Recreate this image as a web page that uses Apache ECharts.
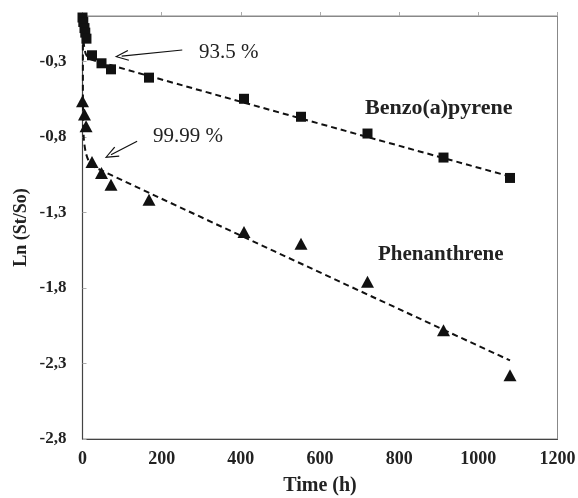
<!DOCTYPE html>
<html><head><meta charset="utf-8">
<script src="https://cdn.jsdelivr.net/npm/echarts@6/dist/echarts.min.js"></script>
<style>html,body{margin:0;padding:0;background:#fff}#c{width:578px;height:498px}</style>
</head><body><div id="c"></div>
<script>
// Benzo(a)pyrene (squares)
const bapTime = [0, 2, 5, 7, 10, 24, 48, 72, 168, 408, 552, 720, 912, 1080];
const bapLn   = [-0.01, -0.04, -0.08, -0.11, -0.15, -0.26, -0.313, -0.353, -0.408, -0.548, -0.667, -0.778, -0.937, -1.072];
// Phenanthrene (triangles)
const phenTime = [0, 5, 9, 24, 48, 72, 168, 408, 552, 720, 912, 1080];
const phenLn   = [-0.564, -0.652, -0.73, -0.966, -1.039, -1.117, -1.216, -1.429, -1.508, -1.759, -2.08, -2.378];
// dashed trend curves
const bapFitTime = [1, 4, 10, 24, 1080];
const bapFitLn   = [-0.1, -0.2, -0.26, -0.29, -1.062];
const phenFitTime = [1, 1, 3, 8, 16, 30, 1080];
const phenFitLn   = [-0.19, -0.5, -0.8, -0.9, -0.96, -1.0, -2.28];
// axis ticks
const xTicks = [0, 200, 400, 600, 800, 1000, 1200];
const yTicks = [-2.8, -2.3, -1.8, -1.3, -0.8, -0.3];
// annotation arrows [fromX, fromY, toX, toY]
const arrow935 = [252, -0.225, 99, -0.265];
const arrow9999 = [138, -0.829, 72, -0.918];

const zip = (a, b) => a.map((v, i) => [v, b[i]]);
const serif = '"Liberation Serif","Times New Roman",serif';
const arrowHead = 'path://M0,0 L-7,14 L-5.6,14.6 L0,3 L5.6,14.6 L7,14 Z';

const chart = echarts.init(document.getElementById('c'));
const mkArrow = a => ({
  silent: true,
  symbol: ['none', arrowHead],
  symbolSize: [11, 14],
  lineStyle: { color: '#111', type: 'solid', width: 1.2 },
  label: { show: false },
  animation: false,
  data: [[{ coord: [a[0], a[1]] }, { coord: [a[2], a[3]] }]]
});

chart.setOption({
  animation: false,
  grid: { left: 82.5, right: 20.5, top: 16, bottom: 59, show: true, borderColor: '#888', borderWidth: 1,
    containLabel: false, outerBoundsMode: 'none' },
  xAxis: [{
    type: 'value', min: xTicks[0], max: xTicks[xTicks.length - 1], interval: 200,
    axisLine: { show: true, onZero: false, lineStyle: { color: '#444', width: 1.2 } },
    axisTick: { show: false },
    splitLine: { show: false },
    axisLabel: { color: '#222', fontFamily: serif, fontWeight: 'bold', fontSize: 18, margin: 11,
      formatter: v => String(v) },
    name: 'Time (h)', nameLocation: 'middle', nameGap: 37, nameMoveOverlap: false,
    nameTextStyle: { color: '#222', fontFamily: serif, fontWeight: 'bold', fontSize: 20 }
  }, {
    type: 'value', position: 'top', min: xTicks[0], max: xTicks[xTicks.length - 1], interval: 200,
    axisLine: { show: true, lineStyle: { color: '#888' } },
    axisTick: { show: true, length: 4, lineStyle: { color: '#aaa' } },
    axisLabel: { show: false }, splitLine: { show: false }
  }],
  yAxis: {
    type: 'value', min: yTicks[0], max: 0, interval: 0.5,
    axisLine: { show: true, onZero: false, lineStyle: { color: '#444', width: 1.2 } },
    axisTick: { show: true, inside: true, length: 4, lineStyle: { color: '#aaa' } },
    splitLine: { show: false },
    axisLabel: {
      color: '#222', fontFamily: serif, fontWeight: 'bold', fontSize: 17, margin: 16,
      showMaxLabel: false,
      formatter: v => (Math.abs(v) < 1e-9 ? '' : v.toFixed(1).replace('.', ','))
    },
    name: 'Ln (St/So)', nameLocation: 'middle', nameGap: 52, nameMoveOverlap: false,
    nameTextStyle: { color: '#222', fontFamily: serif, fontWeight: 'bold', fontSize: 18 }
  },
  series: [
    { type: 'line', data: zip(bapFitTime, bapFitLn), smooth: 0.3, symbol: 'none', clip: false,
      lineStyle: { color: '#111', type: [6, 4], width: 2 }, z: 2, markLine: mkArrow(arrow935) },
    { type: 'line', data: zip(phenFitTime, phenFitLn), smooth: 0.3, symbol: 'none', clip: false,
      lineStyle: { color: '#111', type: [6, 4], width: 2 }, z: 2, markLine: mkArrow(arrow9999) },
    { type: 'scatter', name: 'Benzo(a)pyrene', data: zip(bapTime, bapLn), symbol: 'rect', symbolSize: 10,
      clip: false, itemStyle: { color: '#111', opacity: 1 }, z: 3 },
    { type: 'scatter', name: 'Phenanthrene', data: zip(phenTime, phenLn), symbol: 'triangle', symbolSize: [13, 12],
      clip: false, itemStyle: { color: '#111', opacity: 1 }, z: 3 }
  ],
  graphic: [
    { type: 'text', left: 199, top: 42, style: { text: '93.5 %', font: '21px ' + serif, fill: '#222' } },
    { type: 'text', left: 153, top: 126, style: { text: '99.99 %', font: '21px ' + serif, fill: '#222' } },
    { type: 'text', left: 365, top: 97, style: { text: 'Benzo(a)pyrene', font: 'bold 22px ' + serif, fill: '#222' } },
    { type: 'text', left: 378, top: 244, style: { text: 'Phenanthrene', font: 'bold 21px ' + serif, fill: '#222' } }
  ]
});
</script></body></html>
